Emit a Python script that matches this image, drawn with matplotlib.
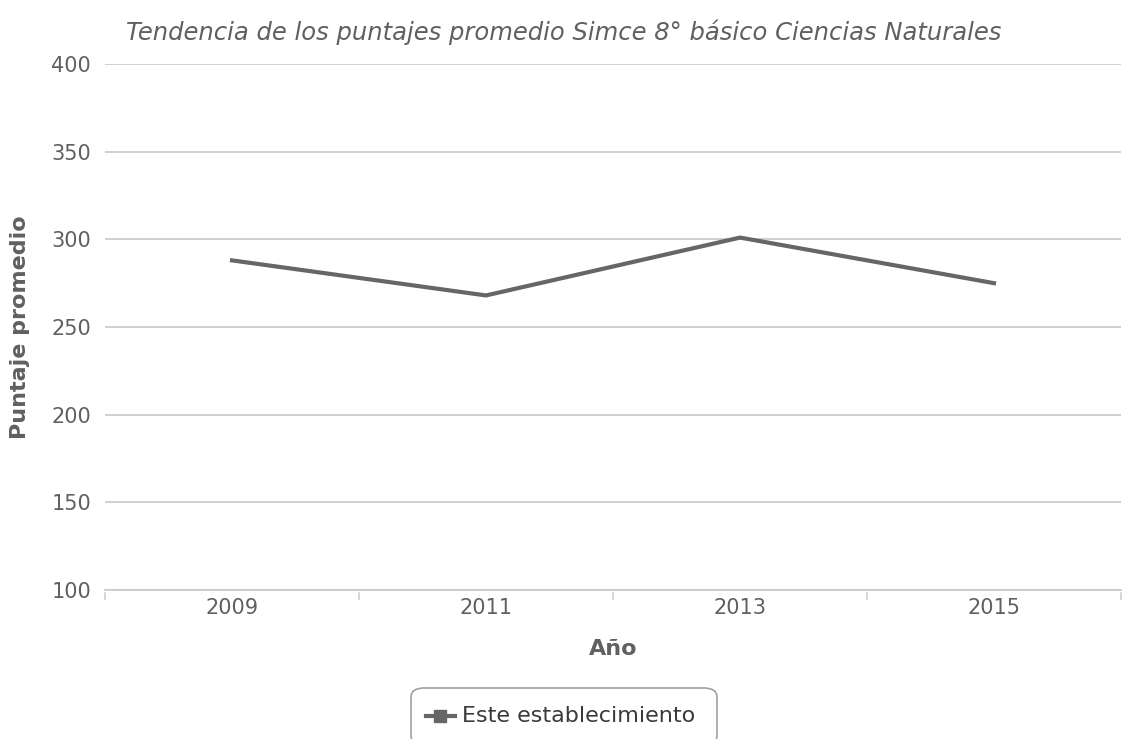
import matplotlib
matplotlib.use("Agg")
import matplotlib.pyplot as plt
from matplotlib.patches import FancyBboxPatch
from matplotlib.lines import Line2D

# data
years = ["2009", "2011", "2013", "2015"]
scores = [288, 268, 301, 275]
y_ticks = [100, 150, 200, 250, 300, 350, 400]

title = "Tendencia de los puntajes promedio Simce 8° básico Ciencias Naturales"
series_name = "Este establecimiento"

W, H = 1122, 739
fig = plt.figure(figsize=(W / 100, H / 100), dpi=100)
ax = fig.add_axes([105 / W, 1 - 590 / H, (1121 - 105) / W, (590 - 64) / H])

line_col = "#666666"
text_col = "#606060"
grid_col = "#c8c8c8"

x = range(len(years))
ax.plot(x, scores, color=line_col, lw=3, solid_joinstyle="miter")

ax.set_xlim(-0.5, len(years) - 0.5)
ax.set_ylim(100, 400)
ax.set_yticks(y_ticks)
ax.set_yticklabels([str(v) for v in y_ticks], fontsize=15, color=text_col)
ax.set_xticks(list(x))
ax.set_xticklabels(years, fontsize=15, color=text_col)
ax.tick_params(axis="y", length=0, pad=10)
ax.tick_params(axis="x", length=0, pad=6)

# category boundary ticks
for b in [i - 0.5 for i in range(len(years) + 1)]:
    ax.annotate("", xy=(b, 100), xytext=(0, -9), textcoords="offset points",
                xycoords="data", arrowprops=dict(arrowstyle="-", color=grid_col, lw=1))

ax.yaxis.grid(True, color=grid_col, lw=1.2)
ax.set_axisbelow(True)
for s in ["top", "right", "left"]:
    ax.spines[s].set_visible(False)
ax.spines["bottom"].set_color(grid_col)
ax.spines["bottom"].set_linewidth(1.2)

ax.set_xlabel("Año", fontsize=16, color=text_col, fontweight="bold", labelpad=15)
fig.text(20 / W, 1 - 327 / H, "Puntaje promedio", rotation=90, fontsize=16,
         color=text_col, fontweight="bold", ha="center", va="center")

fig.text(564 / W, 1 - 32 / H, title, fontsize=17.5, style="italic", color=text_col,
         ha="center", va="center")

# legend box, cut off at the bottom like the reference
box = FancyBboxPatch((411 / W, 1 - 745 / H), (717 - 411) / W, (745 - 688) / H,
                     boxstyle="round,pad=0,rounding_size=0.012",
                     transform=fig.transFigure, facecolor="white",
                     edgecolor="#a0a0a0", lw=1.2)
fig.patches.append(box)
fig.lines.append(Line2D([426 / W, 455 / W], [1 - 716 / H] * 2, transform=fig.transFigure,
                        color=line_col, lw=3))
fig.lines.append(Line2D([440 / W], [1 - 716 / H], transform=fig.transFigure,
                        marker="s", markersize=9, color=line_col, lw=0))
fig.text(462 / W, 1 - 716 / H, series_name, fontsize=16, color="#3a3a3a",
         ha="left", va="center")

fig.savefig("out.png", dpi=100)
